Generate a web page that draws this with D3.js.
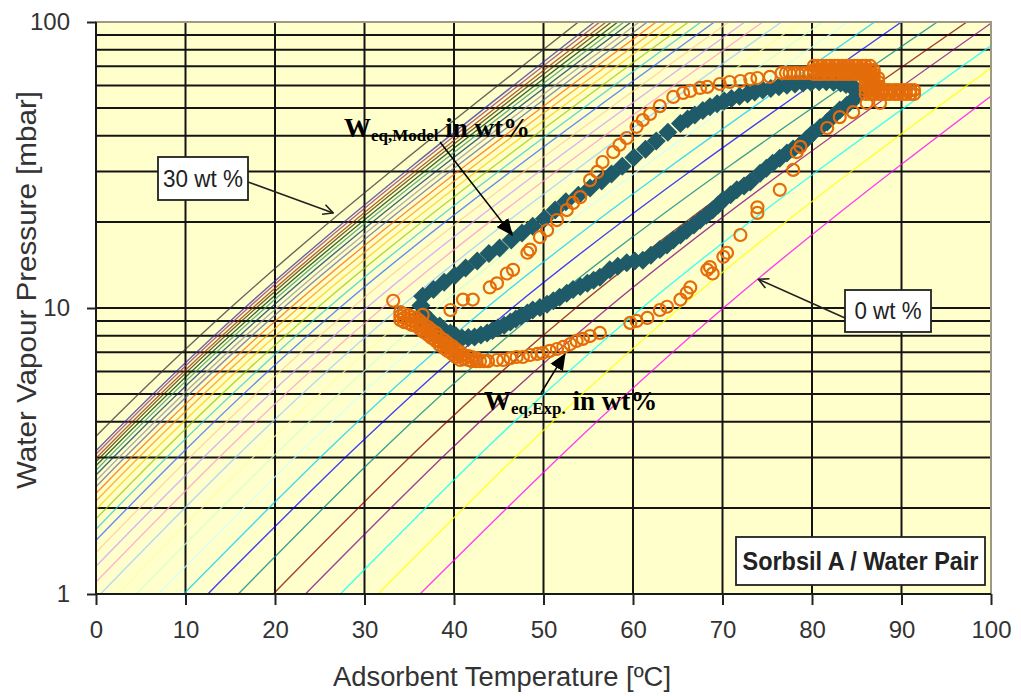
<!DOCTYPE html>
<meta charset="utf-8">
<style>
body { margin: 0; background: #fff; }
svg { display: block; font-family: "Liberation Sans", Arial, sans-serif; }
.hgrid line, .vgrid line { stroke: #141414; stroke-width: 2; }
.iso { fill: none; stroke-width: 1.4; stroke-opacity: 0.75; }
.axis text { font-size: 24px; fill: #333; }
.axis path { display: none; }
.axis line { stroke: #222; stroke-width: 2; }
.exp { fill: none; stroke: #e46c0a; stroke-width: 2.2; }
.model { fill: #1f5a69; }
.lbl { fill: #333; }
.wlbl { font-family: "Liberation Serif", "Times New Roman", serif; font-weight: bold; fill: #000; }
</style>
<svg width="1021" height="696"></svg>
<script src="https://d3js.org/d3.v7.min.js"></script>
<script>

var svg = d3.select('svg'),
    margin = {top: 22, right: 30, bottom: 102, left: 96},
    width = +svg.attr('width') - margin.left - margin.right,
    height = +svg.attr('height') - margin.top - margin.bottom;

// axis ticks
var xTicks = [0,10,20,30,40,50,60,70,80,90,100];
var yTicks = [1,10,100];
var yGrid = [2,3,4,5,6,7,8,9,10,20,30,40,50,60,70,80,90];
var xGrid = [10,20,30,40,50,60,70,80,90];

// isosteres 0..30 wt% : temperature where each crosses 1, 10 and 100 mbar
var isoT1   = [36.2,31.5,27.3,23.4,19.8,15.9,12.5,9.8,7.0,4.5,2.4,0.5,-1.3,-3.0,-4.5,-5.8,-7.0,-8.1,-9.1,-10.0,-10.8,-11.5,-12.1,-12.7,-13.2,-13.7,-14.1,-14.5,-14.9,-15.3,-17.0];
var isoT10  = [70.1,65.2,61.0,57.2,53.6,49.8,46.5,43.6,40.7,38.1,35.9,33.9,32.0,30.2,28.6,27.2,25.9,24.7,23.6,22.6,21.7,20.9,20.2,19.5,18.9,18.4,17.9,17.5,17.0,16.6,15.0];
var isoT100 = [111.0,107.0,103.7,100.2,97.3,94.0,90.0,87.0,84.0,81.2,78.8,76.6,74.5,72.5,70.7,69.1,67.6,66.2,64.9,63.7,62.6,61.6,60.7,59.8,59.0,58.3,57.6,57.0,56.3,55.7,53.9];
var isoColors = ['#ff00ff','#ffff00','#00ffff','#800080','#800000','#008080','#0000ff','#00ccff','#ccffff','#ccffcc',
                 '#ffff99','#99ccff','#ff99cc','#cc99ff','#ffcc99','#3366ff','#33cccc','#99cc00','#ffcc00','#ff9900',
                 '#ff6600','#666699','#969696','#003366','#339966','#003300','#333300','#993300','#993366','#333399','#333333'];

// model equilibrium [T degC, p mbar], going round the loop
var modelUpper = [[36.3,9.2],[36.3,10.2],[36.5,11.0],[37.7,11.6],[38.9,12.3],[40.1,13.0],[41.3,13.8],[42.6,14.6],[43.9,15.5],[45.1,16.2],
  [46.4,17.3],[47.6,18.3],[48.8,19.3],[50.1,20.5],[51.3,22.0],[52.5,23.5],[53.9,24.8],[55.2,26.3],[56.5,27.8],[57.6,29.4],
  [58.8,31.3],[60.1,33.6],[61.4,35.9],[62.6,38.4],[63.9,41.2],[65.3,44.2],[66.1,45.8],[66.9,47.3],[67.8,49.0],[68.6,50.5],
  [69.4,51.8],[70.2,52.9],[71.0,54.0],[71.9,55.0],[72.8,56.0],[73.6,56.9],[74.5,57.8],[75.4,58.6],[76.3,59.4],[77.2,60.1],
  [78.1,60.7],[79.0,61.2],[79.9,61.5],[80.8,61.8],[81.6,61.8],[82.4,61.6],[83.2,61.2],[83.8,60.5],[84.4,59.5],[84.8,58.5],[85.2,56.0]];
var modelLower = [[84.6,53.4],[83.9,51.2],[83.1,49.2],[82.4,47.0],[81.7,44.7],[80.9,42.8],[80.1,40.9],[79.4,39.0],[78.7,37.2],[77.9,36.0],
  [77.2,34.8],[76.4,33.4],[75.6,32.1],[74.9,30.8],[74.2,29.6],[73.1,27.6],[72.4,26.7],[71.6,25.9],[70.9,24.9],[70.1,23.9],
  [69.5,22.9],[68.9,22.0],[68.2,21.1],[67.5,20.3],[66.8,19.5],[66.0,18.7],[65.3,18.0],[64.5,17.3],[63.8,16.6],[63.0,16.0],
  [62.0,15.3],[61.1,14.7],[60.2,14.6],[59.3,14.4],[58.3,14.0],[57.4,13.6],[56.3,12.8],[55.6,12.5],[54.9,12.2],[54.1,11.9],
  [53.3,11.6],[52.6,11.25],[51.8,10.9],[51.1,10.6],[50.4,10.3],[49.6,10.05],[48.8,9.84],[48.2,9.6],[47.5,9.38],[46.9,9.15],
  [46.3,8.93],[45.6,8.7],[44.9,8.51],[44.3,8.35],[43.7,8.18],[43.0,8.05],[42.3,7.92],[41.6,7.88],[40.9,7.86],[40.2,8.0],
  [39.6,8.18],[38.4,8.65],[37.3,9.08],[36.5,9.61]];

// experimental equilibrium [T degC, p mbar]
var expStart = [
  [34.0,9.68],[34.0,9.38],[34.0,9.08],[34.4,9.53],[34.4,9.23],[34.4,8.93],[34.9,9.45],[34.9,9.15],[34.9,8.86],
  [35.3,9.30],[35.3,9.01],[35.3,8.72],[35.8,9.23],[35.8,8.93],[35.8,8.65],[36.2,9.01],[36.2,8.72],[36.2,8.44],
  [36.6,8.79],[36.6,8.51],[36.6,8.24],[37.1,8.58],[37.1,8.31],[37.1,8.05],[37.5,8.37],[37.5,8.11],[37.5,7.85],
  [38.0,8.18],[38.0,7.92],[38.0,7.66],[38.4,7.92],[38.4,7.66],[38.4,7.42],[38.9,7.73],[38.9,7.48],[38.9,7.24],
  [39.3,7.54],[39.3,7.30],[39.3,7.07],[39.8,7.36],[39.8,7.13],[39.8,6.90],[40.2,7.19],[40.2,6.96],[40.2,6.74],
  [40.7,7.02],[40.7,6.79],[40.7,6.58],[41.1,6.85],[41.1,6.63],[41.6,6.79],[41.6,6.58],[42.0,6.74],[42.0,6.52],
  [42.5,6.68],[42.5,6.52],[42.9,6.52],[43.4,6.52],[43.8,6.52]];
var expHeating = [
  [44.8,6.58],[45.5,6.58],[46.3,6.68],[47.0,6.74],[47.7,6.74],[48.5,6.85],[49.3,6.91],[49.9,6.96],[50.7,7.08],[51.5,7.19],
  [52.2,7.31],[53.0,7.48],[53.7,7.67],[54.4,7.80],[55.2,7.98],[56.3,8.18],
  [59.7,8.87],[60.4,9.01],[61.6,9.23],[63.0,9.84],[63.8,10.1],[65.3,10.7],[66.0,11.3],[66.4,11.8],[68.3,13.6],[68.6,13.9],
  [68.9,13.2],[70.1,15.1],[70.5,15.6],[72.0,18.0],[73.9,22.5],[73.9,21.5],[76.4,25.9],[77.9,30.4],[78.3,35.1],[78.7,36.6],
  [81.7,42.6],[83.1,46.5],[84.6,48.4],[86.1,52.1],[87.6,52.1]];
var expTop = [
  [76.6,66.3],[77.1,66.3],[77.5,66.3],[78.0,66.3],[78.4,66.3],[78.9,66.3],[79.3,66.3],[79.8,66.3],
  [80.2,70.2],[80.2,67.9],[80.2,65.8],[80.7,70.2],[80.7,67.9],[80.7,65.8],[81.1,70.2],[81.1,67.9],[81.1,65.8],
  [81.6,70.2],[81.6,67.9],[81.6,65.8],[82.0,70.2],[82.0,67.9],[82.0,65.8],[82.5,70.2],[82.5,67.9],[82.5,65.8],
  [82.9,70.2],[82.9,67.9],[82.9,65.8],[83.4,70.2],[83.4,67.9],[83.4,65.8],[83.8,70.2],[83.8,67.9],[83.8,65.8],
  [84.2,70.2],[84.2,67.9],[84.2,65.8],[84.7,70.2],[84.7,67.9],[84.7,65.8],[85.1,70.2],[85.1,67.9],[85.1,65.8],
  [85.6,70.2],[85.6,67.9],[85.6,65.8],
  [86.0,70.2],[86.0,67.9],[86.0,65.8],[86.0,63.7],[86.0,61.7],[86.0,59.7],[86.0,57.8],[86.0,56.0],
  [86.5,70.2],[86.5,67.9],[86.5,65.8],[86.5,63.7],[86.5,61.7],[86.5,59.7],[86.5,57.8],[86.5,56.0],
  [86.9,67.9],[86.9,65.8],[86.9,63.7],[86.9,61.7],[86.9,59.7],[86.9,57.8],[86.9,56.0],
  [87.4,63.7],[87.4,61.7],[87.4,59.7],[87.4,57.8],[87.4,56.0],
  [87.8,57.8],[87.8,56.0],[88.3,57.8],[88.3,56.0],[88.7,57.8],[88.7,56.0],[89.2,57.8],[89.2,56.0],[89.6,57.8],[89.6,56.0],
  [90.1,57.8],[90.1,56.0],[90.5,57.8],[90.5,56.0],[91.0,57.8],[91.0,56.0],[91.4,57.8],[91.4,56.0]];
var expCooling = [
  [75.3,64.3],[73.9,63.7],[73.1,63.2],[72.0,62.2],[70.8,61.7],[69.7,60.7],[68.3,59.3],[67.5,58.8],[66.4,57.4],[65.6,56.5],
  [64.5,54.7],[63.0,50.8],[61.9,47.7],[61.1,45.4],[60.4,43.0],[59.3,39.3],[58.5,37.2],[57.8,35.1],[56.6,32.4],[56.0,29.9],
  [55.2,28.0],[54.1,24.4],[53.3,23.3],[52.6,22.0],[51.5,20.3],[50.4,18.7],[49.6,17.7],[48.5,16.0],[48.2,15.6],[46.6,13.6],
  [45.9,13.2],[44.8,12.2],[44.0,11.8],[42.1,10.7],[41.0,10.7],[39.6,9.84],[36.5,9.46],[33.2,10.6]];

var x = d3.scaleLinear().domain([0,100]).range([margin.left, margin.left + width]);
var y = d3.scaleLog().domain([1,100]).range([margin.top + height, margin.top]);

svg.append('defs').append('clipPath').attr('id','plotclip')
   .append('rect')
   .attr('x', x(0)).attr('y', y(100))
   .attr('width', x(100) - x(0)).attr('height', y(1) - y(100));

svg.append('rect')
   .attr('x', x(0)).attr('y', y(100))
   .attr('width', x(100) - x(0)).attr('height', y(1) - y(100))
   .attr('fill', '#ffffcc');

svg.append('g').attr('class','hgrid')
   .selectAll('line').data(yGrid).enter().append('line')
   .attr('x1', x(0)).attr('x2', x(100))
   .attr('y1', function(d){ return y(d) }).attr('y2', function(d){ return y(d) });

svg.append('g').attr('class','vgrid')
   .selectAll('line').data(xGrid).enter().append('line')
   .attr('x1', function(d){ return x(d) }).attr('x2', function(d){ return x(d) })
   .attr('y1', y(1)).attr('y2', y(100));

var isoLine = d3.line()
    .x(function(d){ return x(d[0]) })
    .y(function(d){ return y(d[1]) })
    .curve(d3.curveNatural);

var isoData = isoT1.map(function(t, i){
  return {c: isoColors[i], pts: [[t,1],[isoT10[i],10],[isoT100[i],100]]};
});

svg.append('g').attr('clip-path','url(#plotclip)')
   .selectAll('.iso').data(isoData).enter().append('path')
   .attr('class','iso')
   .attr('stroke', function(d){ return d.c })
   .attr('d', function(d){ return isoLine(d.pts) });

// plot border (grey)
svg.append('rect')
   .attr('x', x(0)).attr('y', y(100))
   .attr('width', x(100) - x(0)).attr('height', y(1) - y(100))
   .attr('fill', 'none').attr('stroke', '#9c9a84').attr('stroke-width', 2);

// axes
svg.append('line').attr('x1', x(0)).attr('x2', x(0)).attr('y1', y(1)).attr('y2', y(100))
   .attr('stroke', '#1a1a1a').attr('stroke-width', 2);
svg.append('line').attr('x1', x(0)).attr('x2', x(100)).attr('y1', y(1)).attr('y2', y(1))
   .attr('stroke', '#1a1a1a').attr('stroke-width', 2);

svg.append('g').attr('class','axis')
   .attr('transform', 'translate(0,' + y(1) + ')')
   .call(d3.axisBottom(x).tickValues(xTicks).tickSize(11).tickPadding(16));

svg.append('g').attr('class','axis')
   .attr('transform', 'translate(' + x(0) + ',0)')
   .call(d3.axisLeft(y).tickValues(yTicks).tickFormat(d3.format('d')).tickSize(9).tickPadding(17));

svg.append('text').attr('class','lbl')
   .attr('x', 502).attr('y', 686)
   .attr('text-anchor','middle').style('font-size','27px')
   .attr('textLength', 338).attr('lengthAdjust', 'spacingAndGlyphs')
   .text('Adsorbent Temperature [ºC]');

svg.append('text').attr('class','lbl')
   .attr('transform','translate(36,290) rotate(-90)')
   .attr('text-anchor','middle').style('font-size','28px')
   .attr('textLength', 398).attr('lengthAdjust', 'spacingAndGlyphs')
   .text('Water Vapour Pressure  [mbar]');

// data
var plot = svg.append('g').attr('clip-path','url(#plotclip)');
var diamond = 'M0,-9.5L9.5,0L0,9.5L-9.5,0Z';

plot.selectAll('.model').data(modelUpper.concat(modelLower)).enter().append('path')
    .attr('class','model')
    .attr('d', diamond)
    .attr('transform', function(d){ return 'translate(' + x(d[0]) + ',' + y(d[1]) + ')' });

plot.selectAll('.exp').data(expStart.concat(expHeating, expTop, expCooling)).enter().append('circle')
    .attr('class','exp')
    .attr('r', 6)
    .attr('cx', function(d){ return x(d[0]) })
    .attr('cy', function(d){ return y(d[1]) });

// annotations
var defs = svg.select('defs');
defs.append('marker').attr('id','open').attr('viewBox','0 0 12 12')
    .attr('refX', 11).attr('refY', 6).attr('markerWidth', 12).attr('markerHeight', 12)
    .attr('markerUnits','userSpaceOnUse').attr('orient','auto')
    .append('path').attr('d','M1,1L11,6L1,11').attr('fill','none').attr('stroke','#222').attr('stroke-width',1.6);
defs.append('marker').attr('id','solid').attr('viewBox','0 0 14 12')
    .attr('refX', 13).attr('refY', 6).attr('markerWidth', 17).attr('markerHeight', 15)
    .attr('markerUnits','userSpaceOnUse').attr('orient','auto')
    .append('path').attr('d','M0,0L14,6L0,12Z').attr('fill','#000');

function box(bx, by, bw, bh, txt, fs, bold, tl) {
  svg.append('rect').attr('x', bx).attr('y', by).attr('width', bw).attr('height', bh)
     .attr('fill', '#fff').attr('stroke', '#222').attr('stroke-width', 1.8);
  var t = svg.append('text').attr('x', bx + bw / 2).attr('y', by + bh / 2 + fs * 0.36)
     .attr('text-anchor','middle').style('font-size', fs + 'px')
     .style('font-weight', bold ? 'bold' : 'normal').attr('fill', '#222').text(txt);
  if (tl) t.attr('textLength', tl).attr('lengthAdjust', 'spacingAndGlyphs');
}

svg.append('line').attr('x1', 248).attr('y1', 182).attr('x2', x(26.5)).attr('y2', y(21.5))
   .attr('stroke','#222').attr('stroke-width',1.6).attr('marker-end','url(#open)');
box(158, 157, 90, 43, '30 wt %', 23, false, 80);

svg.append('line').attr('x1', 845).attr('y1', 318).attr('x2', x(74.0)).attr('y2', y(12.6))
   .attr('stroke','#222').attr('stroke-width',1.6).attr('marker-end','url(#open)');
box(845, 290, 86, 42, '0 wt %', 23, false, 67);

box(736, 537, 249, 48, 'Sorbsil A / Water Pair', 25, true, 236);

svg.append('line').attr('x1', 440).attr('y1', 142).attr('x2', x(46.5)).attr('y2', y(18.0))
   .attr('stroke','#000').attr('stroke-width',1.5).attr('marker-end','url(#solid)');
svg.append('line').attr('x1', 541).attr('y1', 393).attr('x2', x(52.4)).attr('y2', y(6.9))
   .attr('stroke','#000').attr('stroke-width',1.5).attr('marker-end','url(#solid)');

var t1 = svg.append('text').attr('class','wlbl').attr('x', 344).attr('y', 137).style('font-size','27px');
t1.append('tspan').text('W');
t1.append('tspan').attr('dy', 4).style('font-size','17px').text('eq,Model');
t1.append('tspan').attr('dy', -4).text(' in wt%');

var t2 = svg.append('text').attr('class','wlbl').attr('x', 484).attr('y', 410).style('font-size','27px');
t2.append('tspan').text('W');
t2.append('tspan').attr('dy', 4).style('font-size','17px').text('eq,Exp.');
t2.append('tspan').attr('dy', -4).text(' in wt%');

</script>
